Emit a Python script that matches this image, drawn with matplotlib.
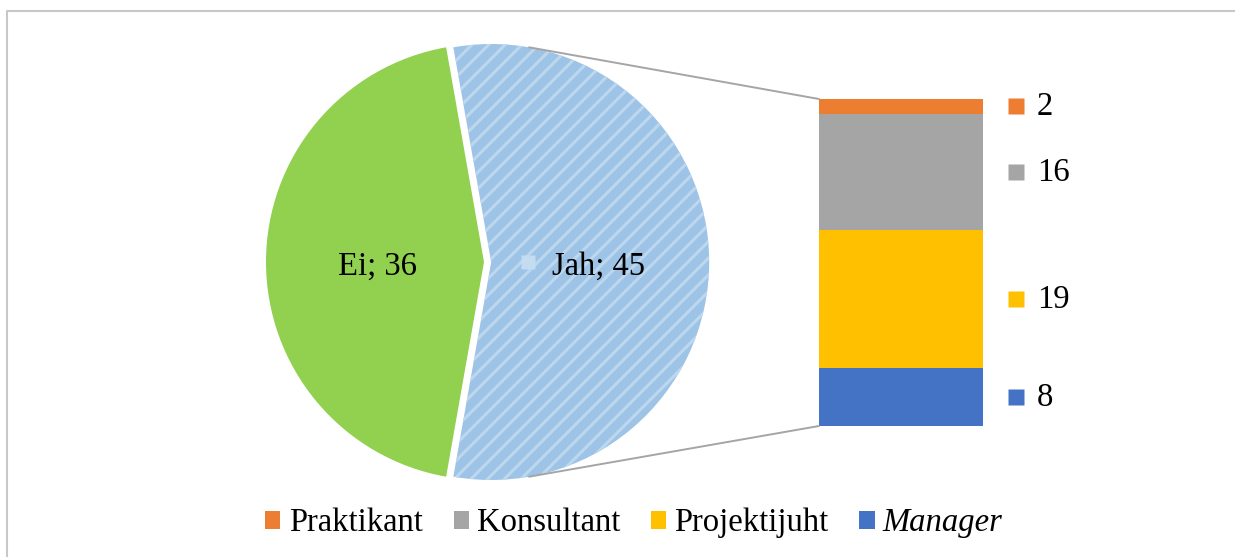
import matplotlib
matplotlib.use('Agg')
import matplotlib.pyplot as plt
import numpy as np
from matplotlib.patches import Patch, ConnectionPatch
from matplotlib.lines import Line2D
import matplotlib.transforms as mtransforms

# pie data
pie_labels = ['Ei', 'Jah']
pie_values = [36, 45]
pie_colors = ['#92D050', '#9DC3E6']

# breakdown of "Jah" (bottom to top in the bar)
bar_labels = ['Manager', 'Projektijuht', 'Konsultant', 'Praktikant']
bar_values = [8, 19, 16, 2]
bar_colors = ['#4472C4', '#FFC000', '#A5A5A5', '#ED7D31']

plt.rcParams['font.family'] = ['Liberation Serif', 'DejaVu Serif']
plt.rcParams['hatch.linewidth'] = 2.2
FS = 23.5

W, H = 1235, 557
fig = plt.figure(figsize=(W / 100, H / 100), dpi=100)

# outer chart border (only top and left are visible)
fig.add_artist(Line2D([7 / W, 7 / W, 1.0], [0.0, 1 - 11 / H, 1 - 11 / H],
                      color='#C8C8C8', lw=1.5, transform=fig.transFigure))

# Pie
cx, cy, r, pad = 484, 262, 218, 1.15
ax_pie = fig.add_axes([(cx - pad * r) / W, (H - cy - pad * r) / H,
                       2 * pad * r / W, 2 * pad * r / H])
wedges, _ = ax_pie.pie(pie_values, colors=pie_colors, startangle=100,
                       counterclock=True, radius=1, explode=[0, 0.033],
                       wedgeprops=dict(linewidth=0))
wedges[1].set_hatch('//')
wedges[1].set_edgecolor('#BDD7EE')
wedges[1].set_linewidth(0)
ax_pie.set_xlim(-pad, pad)
ax_pie.set_ylim(-pad, pad)
ax_pie.set_aspect('auto')
ax_pie.axis('off')

# slice labels
for w, lab, val in zip(wedges, pie_labels, pie_values):
    a = np.deg2rad((w.theta1 + w.theta2) / 2)
    x0, y0 = w.center
    ax_pie.text(x0 + 0.49 * np.cos(a), y0 + 0.49 * np.sin(a) - 0.02, f'{lab}; {val}',
                ha='center', va='center', fontsize=FS, zorder=4)
# faint legend-key artifact inside the "Jah" slice
ax_pie.plot([0.2], [0.0], marker='s', ms=10, color='#C4DCF1',
            mec='none', zorder=4)

# Stacked bar
bx0, bx1, by0, by1 = 819, 983, 99, 426
ax_bar = fig.add_axes([bx0 / W, (H - by1) / H, (bx1 - bx0) / W, (by1 - by0) / H])
bottom = 0
for val, col in zip(bar_values, bar_colors):
    ax_bar.bar(0, val, width=1, bottom=bottom, color=col, linewidth=0)
    bottom += val
ax_bar.set_xlim(-0.5, 0.5)
ax_bar.set_ylim(0, sum(bar_values))
ax_bar.axis('off')

# value labels with colour keys beside the bar
trans = mtransforms.blended_transform_factory(ax_bar.transAxes, ax_bar.transData)
bottom = 0
for val, col in zip(bar_values, bar_colors):
    mid = bottom + val / 2
    ax_bar.plot([1.20], [mid], marker='s', ms=11, color=col, mec='none',
                transform=trans, clip_on=False)
    ax_bar.text(1.33, mid - 0.1, str(val), ha='left', va='center',
                fontsize=FS, transform=trans, clip_on=False)
    bottom += val

# connector lines from the exploded "Jah" slice to the bar
x0, y0 = wedges[1].center
ang = np.deg2rad(80)
for sgn, ybar in ((1, sum(bar_values)), (-1, 0)):
    con = ConnectionPatch(xyA=(x0 + np.cos(ang), y0 + sgn * np.sin(ang)),
                          coordsA=ax_pie.transData,
                          xyB=(-0.5, ybar), coordsB=ax_bar.transData,
                          color='#A5A5A5', lw=1.4)
    fig.add_artist(con)

# legend at the bottom (top to bottom order of the bar)
handles = [Patch(facecolor=c, edgecolor='none') for c in bar_colors[::-1]]
leg = fig.legend(handles, bar_labels[::-1], loc='center',
                 bbox_to_anchor=(634 / W, 1 - 523 / H), ncol=4, frameon=False,
                 fontsize=FS, handlelength=0.46, handleheight=0.46,
                 handletextpad=0.25, columnspacing=0.95)
leg.get_texts()[3].set_style('italic')

fig.savefig('out.png', dpi=100)
